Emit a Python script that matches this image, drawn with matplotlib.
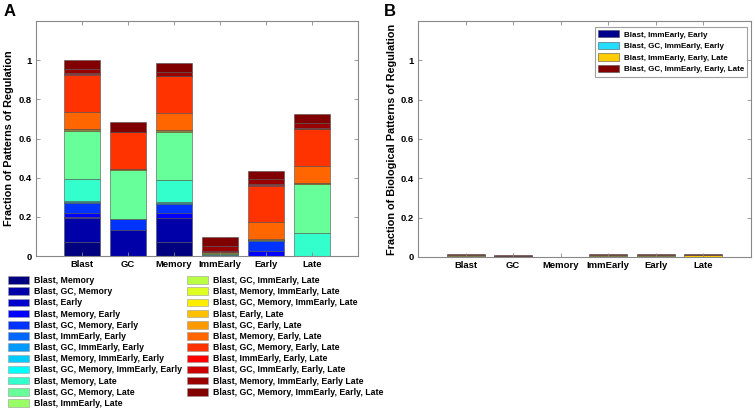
import matplotlib
matplotlib.use("Agg")
import matplotlib.pyplot as plt
import numpy as np
from matplotlib.patches import Patch

plt.rcParams['font.family'] = ['Liberation Sans', 'DejaVu Sans']

categories = ['Blast', 'GC', 'Memory', 'ImmEarly', 'Early', 'Late']

patterns = [
    'Blast, Memory', 'Blast, GC, Memory', 'Blast, Early', 'Blast, Memory, Early',
    'Blast, GC, Memory, Early', 'Blast, ImmEarly, Early', 'Blast, GC, ImmEarly, Early',
    'Blast, Memory, ImmEarly, Early', 'Blast, GC, Memory, ImmEarly, Early',
    'Blast, Memory, Late', 'Blast, GC, Memory, Late', 'Blast, ImmEarly, Late',
    'Blast, GC, ImmEarly, Late', 'Blast, Memory, ImmEarly, Late',
    'Blast, GC, Memory, ImmEarly, Late', 'Blast, Early, Late', 'Blast, GC, Early, Late',
    'Blast, Memory, Early, Late', 'Blast, GC, Memory, Early, Late',
    'Blast, ImmEarly, Early, Late', 'Blast, GC, ImmEarly, Early, Late',
    'Blast, Memory, ImmEarly, Early Late', 'Blast, GC, Memory, ImmEarly, Early, Late',
]

# fraction of each pattern (columns follow `patterns`) within each category bar
blast_vals = [0.072, 0.124, 0.003, 0.022, 0.050, 0.002, 0.002, 0.002, 0.002, 0.112, 0.247, 0.001,
              0.001, 0.004, 0.005, 0.001, 0.001, 0.085, 0.187, 0.005, 0.004, 0.022, 0.046]
gc_vals = [0, 0.133, 0, 0, 0.054, 0, 0.001, 0, 0.002, 0, 0.248, 0,
           0.002, 0, 0.002, 0, 0.001, 0, 0.189, 0, 0.003, 0, 0.047]
memory_vals = [0.072, 0.124, 0, 0.022, 0.050, 0, 0, 0.003, 0.003, 0.113, 0.247, 0,
               0, 0.005, 0.006, 0, 0, 0.086, 0.187, 0, 0, 0.022, 0.047]
immearly_vals = [0, 0, 0, 0, 0, 0.002, 0.002, 0.002, 0.003, 0, 0, 0.002,
                 0.002, 0.003, 0.003, 0, 0, 0, 0, 0.004, 0.003, 0.025, 0.044]
early_vals = [0, 0, 0.001, 0.024, 0.051, 0.002, 0.002, 0.002, 0.002, 0, 0, 0,
              0, 0, 0, 0.001, 0.001, 0.086, 0.187, 0.005, 0.004, 0.023, 0.044]
late_vals = [0, 0, 0, 0, 0, 0, 0, 0, 0, 0.116, 0.250, 0.001,
             0.001, 0.002, 0.002, 0.001, 0.001, 0.085, 0.187, 0.005, 0.004, 0.025, 0.044]

patterns_b = ['Blast, ImmEarly, Early', 'Blast, GC, ImmEarly, Early',
              'Blast, ImmEarly, Early, Late', 'Blast, GC, ImmEarly, Early, Late']
b_vals = {
    'Blast':    [0.002, 0.001, 0.008, 0.004],
    'GC':       [0.0, 0.003, 0.0, 0.007],
    'Memory':   [0.0, 0.0, 0.0, 0.0],
    'ImmEarly': [0.002, 0.001, 0.008, 0.004],
    'Early':    [0.002, 0.001, 0.008, 0.004],
    'Late':     [0.0, 0.0, 0.009, 0.004],
}

colors_a = ['#000080', '#0000A8', '#0000CD', '#0000FF', '#0033FF', '#0066FF', '#0099FF',
            '#00CCFF', '#00FFFF', '#33FFCC', '#66FF99', '#99FF66', '#BBFF44', '#DDFF22',
            '#FFEE00', '#FFC000', '#FF9900', '#FF6600', '#FF3300', '#FF0000', '#CC0000',
            '#990000', '#800000']
colors_b = ['#00008F', '#22DDFF', '#FFCC00', '#800000']

fig = plt.figure(figsize=(7.55, 4.17), dpi=100)
W, H = 755, 417
axA = fig.add_axes([36 / W, 1 - 256 / H, 322 / W, 235 / H])
axB = fig.add_axes([418 / W, 1 - 257 / H, 333 / W, 236 / H])

x = np.arange(1, len(categories) + 1)
edge = '#505050'

matA = np.array([blast_vals, gc_vals, memory_vals, immearly_vals, early_vals, late_vals])
bottom = np.zeros(len(categories))
for j in range(len(patterns)):
    axA.bar(x, matA[:, j], 0.8, bottom=bottom, color=colors_a[j], edgecolor=edge,
            linewidth=0.4)
    bottom += matA[:, j]

matB = np.array([b_vals[c] for c in categories])
bottom = np.zeros(len(categories))
for j in range(len(patterns_b)):
    axB.bar(x, matB[:, j], 0.8, bottom=bottom, color=colors_b[j], edgecolor=edge,
            linewidth=0.4, label=patterns_b[j])
    bottom += matB[:, j]

for ax in (axA, axB):
    ax.set_xlim(0, 7)
    ax.set_ylim(0, 1.2)
    ax.set_xticks(x)
    ax.set_xticklabels(categories, fontsize=6.8, fontweight='bold')
    ax.set_yticks([0, 0.2, 0.4, 0.6, 0.8, 1.0])
    ax.set_yticklabels(['0', '0.2', '0.4', '0.6', '0.8', '1'], fontsize=6.8, fontweight='bold')
    ax.tick_params(direction='in', length=3, width=0.6, top=True, right=True,
                   color='#888888', pad=3)
    for s in ax.spines.values():
        s.set_color('#888888')
        s.set_linewidth(0.8)

axA.set_ylabel('Fraction of Patterns of Regulation', fontsize=7.8, fontweight='bold')
axA.yaxis.set_label_coords(-0.068, 0.5)
axB.set_ylabel('Fraction of Biological Patterns of Regulation', fontsize=7.8,
               fontweight='bold')
axB.yaxis.set_label_coords(-0.063, 0.5)

fig.text(10 / W, 1 - 11 / H, 'A', fontsize=12, fontweight='bold', va='center', ha='center')
fig.text(390 / W, 1 - 11 / H, 'B', fontsize=12, fontweight='bold', va='center', ha='center')

legB = axB.legend(loc='upper right', bbox_to_anchor=(1 - 4 / 333, 1 - 6 / 236),
                  fontsize=5.8, frameon=True, fancybox=False, handlelength=2.6,
                  handleheight=1.0, labelspacing=0.4, borderpad=0.4, handletextpad=0.6,
                  borderaxespad=0)
legB.get_frame().set_edgecolor('#888888')
legB.get_frame().set_linewidth(0.8)
for t in legB.get_texts():
    t.set_fontweight('bold')

handles = [Patch(facecolor=colors_a[j], edgecolor='#999999', linewidth=0.4)
           for j in range(len(patterns))]
legA = fig.legend(handles, patterns, loc='upper left', bbox_to_anchor=(8 / W, 1 - 276 / H),
                  ncol=2, fontsize=6.3, frameon=False, handlelength=2.4, handleheight=0.95,
                  labelspacing=0.25, columnspacing=0.5, handletextpad=0.6, borderaxespad=0,
                  borderpad=0)
for t in legA.get_texts():
    t.set_fontweight('bold')

fig.savefig('out.png', dpi=100)
